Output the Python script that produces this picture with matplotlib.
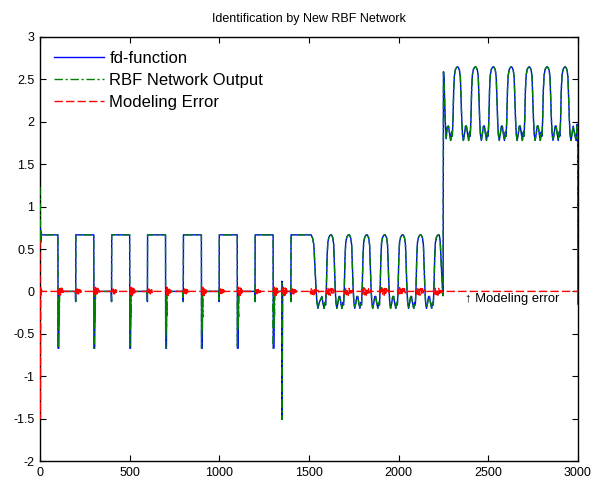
import numpy as np
import matplotlib
matplotlib.use("Agg")
import matplotlib.pyplot as plt

plt.rcParams["font.family"] = ["Liberation Sans", "DejaVu Sans"]

# ---- data -----------------------------------------------------------
HIGH = 0.667                      # level of the square pulses
sq_fall = [100, 300, 500, 700, 900, 1100, 1300]
sq_rise = [200, 400, 600, 800, 1000, 1200, 1400]
fall_spike = -0.67                # short negative spike on falling edges
rise_dip = -0.12                  # small dip just before rising edges
big_spike_t = 1350
big_spike = [0.12, -1.51]         # up, then down

# start transients (t, value)
fd_start = [(0, 0.55), (2, 0.74), (4, 0.58), (6, 0.70), (9, 0.667)]
net_start = [(0, 1.23), (2, 0.95), (3, 0.55), (5, 0.72), (9, 0.667)]
err_start = [(0, 0.60), (2, -1.50), (4, 0.06), (6, -0.04), (8, 0.02), (10, 0.0)]

# falling part after the last flat pulse (1400-1512)
osc1_lead_t = [1512, 1520, 1527, 1533, 1539, 1544, 1550, 1556]
osc1_lead_v = [0.667, 0.63, 0.55, 0.30, 0.05, -0.12, -0.20, -0.14]

# one oscillation cycle, offsets from its peak
cyc_dt = [-50, -44, -38, -33, -29, -25, -21, -17, -11, -5, 0,
          5, 11, 16, 20, 24, 28, 33, 39, 45]
cyc_low = [-0.06, -0.14, -0.20, -0.13, -0.16, 0.05, 0.40, 0.58, 0.64, 0.66, 0.67,
           0.66, 0.63, 0.55, 0.30, 0.05, -0.12, -0.20, -0.14, -0.06]
cyc_high = [1.95, 1.86, 1.78, 1.88, 1.83, 2.02, 2.38, 2.55, 2.62, 2.64, 2.65,
            2.64, 2.61, 2.53, 2.28, 2.02, 1.85, 1.78, 1.86, 1.95]
peaks_low = [1622, 1722, 1822, 1922, 2022, 2122, 2222]
peaks_high = [2328, 2428, 2528, 2628, 2728, 2828, 2928]

# transition between the two oscillation blocks
mid_t = [2227, 2232, 2238, 2244, 2248, 2250, 2253, 2257, 2261, 2265, 2271]
mid_v = [0.66, 0.58, 0.30, 0.05, -0.05, 2.59, 2.52, 2.20, 1.95, 1.80, 1.94]

# end of record
end_t = [2984, 2990, 2995, 2998, 3000]
end_v = [1.83, 1.78, 1.97, 1.95, -0.15]

# modeling error bursts: centres, amplitudes, zigzag shape
err_burst_t = ([100, 200, 300, 400, 500, 600, 700, 800, 900, 1000, 1100, 1200,
                1300, 1350, 1400, 1500] + [p - 30 for p in peaks_low])
err_burst_a = ([0.05, 0.03] * 6 + [0.05, 0.05, 0.03, 0.04] + [0.045] * 7)
zig = [0.5, -0.7, 1.0, -0.9, 0.6, -1.0, 0.8, -0.5, 0.7, -0.4, 0.3, -0.2]

# ---- build the polylines ----------------------------------------------
def build(start, fall_pts):
    ts, vs = [p[0] for p in start], [p[1] for p in start]
    for f, r in zip(sq_fall, sq_rise):
        ts.append(f); vs.append(HIGH)
        for dt, v in fall_pts:
            ts.append(f + dt); vs.append(v)
        if f == 1300:
            ts += [big_spike_t - 3, big_spike_t - 1, big_spike_t, big_spike_t + 3]
            vs += [0.0, big_spike[0], big_spike[1], 0.0]
        ts += [r - 3, r - 1, r]
        vs += [0.0, rise_dip, HIGH]
    ts += osc1_lead_t; vs += osc1_lead_v
    for p in peaks_low[:-1]:
        ts += [p + d for d in cyc_dt]; vs += cyc_low
    last = peaks_low[-1]
    k = cyc_dt.index(0)
    ts += [last + d for d in cyc_dt[:k + 1]]; vs += cyc_low[:k + 1]
    ts += mid_t; vs += mid_v
    for p in peaks_high:
        ts += [p + d for d in cyc_dt]; vs += cyc_high
    ts += end_t; vs += end_v
    return np.array(ts), np.array(vs)

fd_fall = [(1, fall_spike), (5, fall_spike), (7, -0.05), (12, 0.0)]
net_fall = [(1, fall_spike), (2, -0.10), (3, -0.45), (4, -0.05), (5, -0.42),
            (6, -0.15), (8, -0.30), (10, 0.0), (12, 0.0)]
t_fd, y_fd = build(fd_start, fd_fall)
t_net, y_net = build(net_start, net_fall)

t_err = [p[0] for p in err_start]
y_err = [p[1] for p in err_start]
for c, a in zip(err_burst_t, err_burst_a):
    step = 4.5 if c > 1450 else 2.5
    t_err.append(c); y_err.append(0.0)
    for i, z in enumerate(zig):
        t_err.append(c + (i + 1) * step); y_err.append(a * z)
    t_err.append(c + (len(zig) + 1) * step); y_err.append(0.0)
t_err.append(3000); y_err.append(0.0)

# ---- figure -------------------------------------------------------------
fig = plt.figure(figsize=(5.95, 4.83), dpi=100)
ax = fig.add_axes([0.0672, 0.0455, 0.9042, 0.8779])

ax.plot(t_fd, y_fd, color="#0000ff", lw=1.0, label="fd-function", zorder=3)
ax.plot(t_net, y_net, color="#008000", lw=1.0, dashes=(6, 2, 1.5, 2),
        label="RBF Network Output", zorder=3)
ax.plot(t_err, y_err, color="#ff0000", lw=1.0, dashes=(6, 2.3),
        label="Modeling Error", zorder=3)

ax.text(2372, -0.09, "\u2191 Modeling error", fontsize=9.4, va="center", ha="left")

ax.set_xlim(0, 3000)
ax.set_ylim(-2, 3)
ax.set_xticks(np.arange(0, 3001, 500))
ax.set_yticks(np.arange(-2, 3.01, 0.5))
ax.set_yticklabels(["-2", "-1.5", "-1", "-0.5", "0", "0.5", "1", "1.5", "2", "2.5", "3"])
ax.tick_params(direction="in", length=4, width=0.8, labelsize=9,
               top=True, right=True, pad=4)
for s in ax.spines.values():
    s.set_linewidth(1.0)

ax.set_title("Identification by New RBF Network", fontsize=9, pad=11)

ax.legend(loc="upper left", bbox_to_anchor=(0.0, 1.0), frameon=False,
          fontsize=12, handlelength=3.0, handletextpad=0.35, labelspacing=0.44,
          borderaxespad=0.42, borderpad=0.4)

fig.savefig("out.png", dpi=100)
